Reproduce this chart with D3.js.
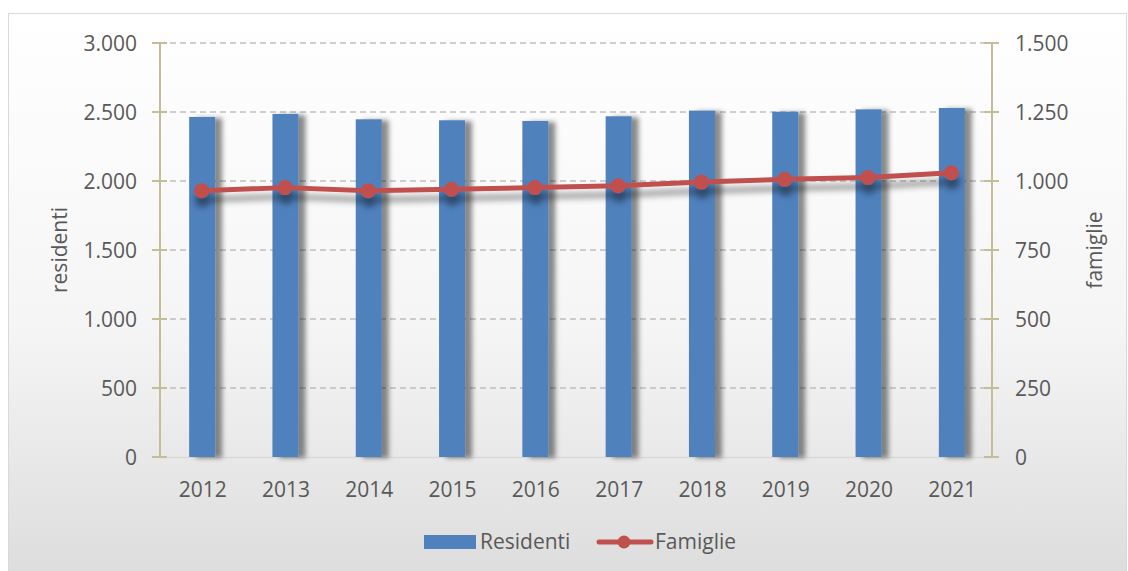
<!DOCTYPE html>
<html>
<head>
<meta charset="utf-8">
<script src="https://cdn.jsdelivr.net/npm/d3@7"></script>
<style>
  html, body { margin: 0; padding: 0; background: #ffffff; }
  svg { display: block; }
  text { font-family: "Open Sans", "Liberation Sans", sans-serif; fill: #595959; }
</style>
</head>
<body>
<svg id="chart" width="1128" height="571"></svg>
<script>
// Anni, residenti e famiglie
const years = ["2012", "2013", "2014", "2015", "2016", "2017", "2018", "2019", "2020", "2021"];
const residenti = [2464, 2486, 2447, 2440, 2435, 2469, 2510, 2502, 2519, 2529];
const famiglie = [965, 976, 965, 970, 976, 983, 996, 1006, 1013, 1030];
const leftTicks = [0, 500, 1000, 1500, 2000, 2500, 3000];
const rightTicks = [0, 250, 500, 750, 1000, 1250, 1500];

const fmt = d => d3.format(",")(d).replace(/,/g, ".");

const svg = d3.select("#chart");
const plot = { left: 160, right: 993, top: 43, bottom: 457 };

const defs = svg.append("defs");
const bg = defs.append("linearGradient").attr("id", "bgGrad")
  .attr("x1", 0).attr("y1", 0).attr("x2", 0).attr("y2", 1);
bg.append("stop").attr("offset", "0%").attr("stop-color", "#ffffff");
bg.append("stop").attr("offset", "55%").attr("stop-color", "#f5f5f5");
bg.append("stop").attr("offset", "100%").attr("stop-color", "#dcdcdc");

const barShadow = defs.append("filter").attr("id", "barShadow")
  .attr("x", "-50%").attr("y", "-10%").attr("width", "250%").attr("height", "130%");
barShadow.append("feDropShadow").attr("dx", 7).attr("dy", 1).attr("stdDeviation", 2.5)
  .attr("flood-color", "#000").attr("flood-opacity", 0.45);

const lineShadow = defs.append("filter").attr("id", "lineShadow")
  .attr("x", "-10%").attr("y", "-100%").attr("width", "120%").attr("height", "400%");
lineShadow.append("feDropShadow").attr("dx", 1).attr("dy", 9).attr("stdDeviation", 3)
  .attr("flood-color", "#000").attr("flood-opacity", 0.42);

// Chart area with border
svg.append("rect").attr("x", 8.5).attr("y", 13.5).attr("width", 1118).attr("height", 570)
  .attr("fill", "url(#bgGrad)").attr("stroke", "#d9d9d9").attr("stroke-width", 1);

const x = d3.scaleBand().domain(years).range([plot.left, plot.right]).paddingInner(0).paddingOuter(0);
const yL = d3.scaleLinear().domain([0, 3000]).range([plot.bottom, plot.top]);
const yR = d3.scaleLinear().domain([0, 1500]).range([plot.bottom, plot.top]);

// Dashed gridlines
svg.append("g").selectAll("line").data(leftTicks.filter(d => d > 0)).join("line")
  .attr("x1", plot.left).attr("x2", plot.right)
  .attr("y1", d => yL(d)).attr("y2", d => yL(d))
  .attr("stroke", "#bfbfbf").attr("stroke-width", 1.5).attr("stroke-dasharray", "6,4");

// Category axis baseline
svg.append("line").attr("x1", plot.left).attr("x2", plot.right)
  .attr("y1", plot.bottom + 0.5).attr("y2", plot.bottom + 0.5)
  .attr("stroke", "#d9d9d9").attr("stroke-width", 1.5);

// Bars
const barW = 26;
svg.append("g").selectAll("rect").data(years).join("rect")
  .attr("x", d => x(d) + x.bandwidth() / 2 - barW / 2 + 0.5)
  .attr("y", (d, i) => yL(residenti[i]))
  .attr("width", barW)
  .attr("height", (d, i) => yL(0) - yL(residenti[i]))
  .attr("fill", "#4f81bd")
  .attr("filter", "url(#barShadow)");

// Value axes (tan) with crossing ticks
const axisColor = "#c4bd97";
function valueAxis(xPos, ticks, scale, labelX, anchor) {
  const g = svg.append("g");
  g.append("line").attr("x1", xPos).attr("x2", xPos)
    .attr("y1", plot.top).attr("y2", plot.bottom)
    .attr("stroke", axisColor).attr("stroke-width", 2);
  g.selectAll("line.tick").data(ticks).join("line").attr("class", "tick")
    .attr("x1", xPos - 8).attr("x2", xPos + 7)
    .attr("y1", d => scale(d)).attr("y2", d => scale(d))
    .attr("stroke", axisColor).attr("stroke-width", 2);
  g.selectAll("text").data(ticks).join("text")
    .attr("x", labelX).attr("y", d => scale(d) + 8)
    .attr("text-anchor", anchor)
    .attr("font-size", 21)
    .text(fmt);
}
valueAxis(plot.left, leftTicks, yL, 137, "end");
valueAxis(plot.right - 1, rightTicks, yR, 1015, "start");

// Year labels
svg.append("g").selectAll("text").data(years).join("text")
  .attr("x", d => x(d) + x.bandwidth() / 2 + 1)
  .attr("y", 497)
  .attr("text-anchor", "middle")
  .attr("font-size", 21)
  .text(d => d);

// Axis titles
svg.append("text").attr("transform", "translate(67,250) rotate(-90)")
  .attr("text-anchor", "middle").attr("font-size", 21).text("residenti");
svg.append("text").attr("transform", "translate(1102,250) rotate(-90)")
  .attr("text-anchor", "middle").attr("font-size", 21).text("famiglie");

// Famiglie line with markers
const lineGen = d3.line()
  .x((d, i) => x(years[i]) + x.bandwidth() / 2)
  .y(d => yR(d));
const lg = svg.append("g").attr("filter", "url(#lineShadow)");
lg.append("path").datum(famiglie).attr("d", lineGen)
  .attr("fill", "none").attr("stroke", "#c0504d").attr("stroke-width", 5)
  .attr("stroke-linejoin", "round").attr("stroke-linecap", "round");
lg.selectAll("circle").data(famiglie).join("circle")
  .attr("cx", (d, i) => x(years[i]) + x.bandwidth() / 2)
  .attr("cy", d => yR(d))
  .attr("r", 7.5)
  .attr("fill", "#c0504d");

// Legend
const leg = svg.append("g");
leg.append("rect").attr("x", 424).attr("y", 535).attr("width", 52).attr("height", 14).attr("fill", "#4f81bd");
leg.append("text").attr("x", 480).attr("y", 549).attr("font-size", 21).text("Residenti");
leg.append("line").attr("x1", 599).attr("x2", 651).attr("y1", 542).attr("y2", 542)
  .attr("stroke", "#c0504d").attr("stroke-width", 5).attr("stroke-linecap", "round");
leg.append("circle").attr("cx", 624).attr("cy", 542).attr("r", 6.5).attr("fill", "#c0504d");
leg.append("text").attr("x", 655).attr("y", 549).attr("font-size", 21).text("Famiglie");
</script>
</body>
</html>
